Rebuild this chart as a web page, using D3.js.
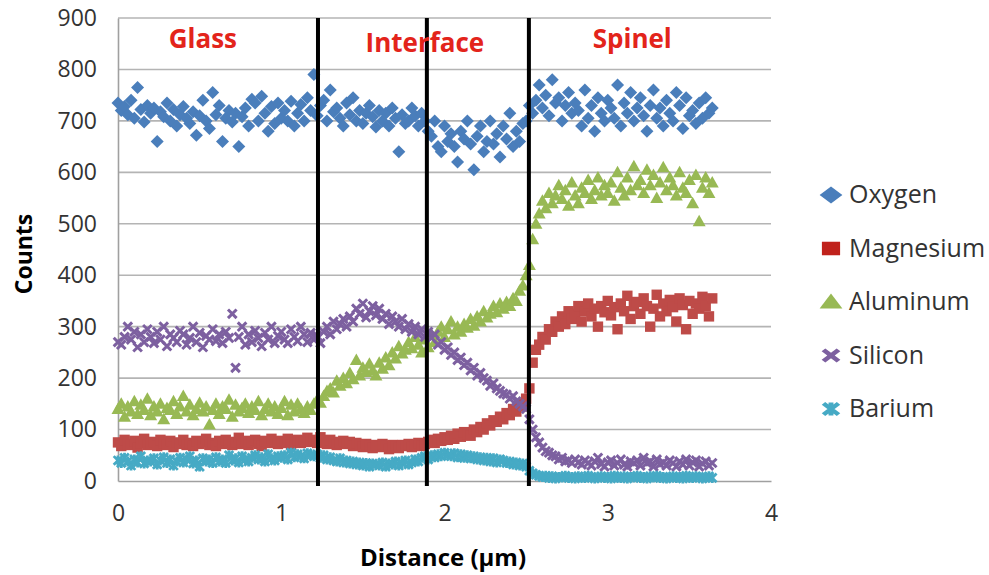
<!DOCTYPE html>
<html>
<head>
<meta charset="utf-8">
<script src="https://cdn.jsdelivr.net/npm/d3@7"></script>
<style>
  html, body { margin: 0; padding: 0; background: #fff; }
  svg text { font-family: "Open Sans", "Lato", sans-serif; }
</style>
</head>
<body>
<svg id="grafico" width="989" height="575"></svg>
<script>
'use strict';

// Distancia entre medidas (µm); el punto i está en i * paso
var paso = 0.02;

var oxygen = [
  735,720,728,712,740,705,765,722,698,730,
  715,725,660,718,708,735,700,722,690,712,
  728,705,695,718,672,710,740,700,685,755,
  712,730,660,705,720,698,715,650,708,725,
  690,742,735,700,748,715,680,728,695,735,
  705,720,700,738,690,715,732,700,745,720,
  790,710,730,740,700,760,718,725,705,690,
  735,712,745,700,720,695,715,730,708,688,
  720,700,715,690,725,705,640,712,695,700,
  725,710,690,715,700,680,670,700,650,640,
  690,660,675,650,620,680,665,700,655,605,
  670,690,640,660,700,655,675,630,690,665,
  715,650,680,660,695,700,730,715,740,770,
  725,750,710,780,735,745,700,730,755,715,
  735,720,690,760,705,730,680,745,715,700,
  740,725,705,770,690,735,715,755,700,725,
  745,710,680,730,760,705,725,690,740,715,
  700,755,730,685,745,710,720,695,735,705,
  745,715,725
];

var magnesium = [
  75,68,80,72,70,78,65,74,82,70,
  72,76,68,80,74,70,78,66,75,72,
  80,70,74,68,78,72,76,82,70,74,
  68,78,72,80,74,70,76,84,72,78,
  70,76,80,72,68,78,74,82,76,72,
  78,74,82,70,76,80,74,78,84,76,
  80,74,85,78,72,80,76,70,74,78,
  72,76,68,74,70,66,72,68,64,70,
  66,72,68,62,70,66,64,70,68,72,
  66,70,74,68,72,76,80,74,82,78,
  85,80,88,82,92,86,95,90,88,100,
  95,105,100,112,108,118,115,125,120,132,
  128,140,135,150,145,160,180,230,255,265,
  280,275,295,290,310,300,320,305,330,315,
  325,340,310,330,345,320,335,300,340,328,
  350,322,338,295,345,330,360,315,340,348,
  325,355,340,300,335,362,320,345,330,352,
  338,310,355,342,295,350,325,345,335,358,
  340,320,355
];

var aluminum = [
  140,150,125,145,135,155,130,148,138,160,
  128,145,135,150,120,142,138,155,130,145,
  165,135,148,128,140,152,135,145,110,138,
  150,130,145,140,158,125,148,135,142,150,
  132,145,138,155,128,140,150,135,145,130,
  142,155,128,148,135,150,140,132,145,138,
  150,158,152,165,175,180,172,195,185,200,
  190,210,198,235,205,220,212,228,215,205,
  230,218,240,225,250,238,262,248,255,270,
  258,280,265,250,275,260,285,270,290,300,
  280,295,310,285,300,290,305,298,315,302,
  320,310,330,318,325,340,328,345,335,348,
  340,355,350,370,380,400,420,470,500,520,
  545,530,560,540,555,575,548,565,535,580,
  555,540,570,560,585,548,565,590,555,575,
  560,580,545,600,570,555,590,565,612,575,
  585,560,605,575,595,550,580,610,565,590,
  575,555,600,570,560,585,540,595,505,570,
  590,560,580
];

var silicon = [
  270,265,280,300,275,290,260,285,270,295,
  280,268,290,275,300,262,285,278,270,292,
  285,265,278,300,270,288,260,282,275,295,
  272,285,268,290,278,325,220,280,300,265,
  285,270,292,278,262,288,275,300,268,282,
  290,275,268,295,280,272,300,285,270,288,
  275,282,268,290,300,285,310,295,305,315,
  300,320,310,335,325,345,318,330,340,322,
  335,315,325,305,320,310,300,315,295,305,
  290,300,285,295,280,290,278,285,265,270,
  255,260,245,250,235,240,225,230,215,220,
  205,210,200,195,185,190,180,175,170,168,
  160,165,155,150,145,140,120,100,85,75,
  65,58,55,50,48,42,45,38,40,35,
  42,36,32,40,35,30,38,45,33,28,
  36,40,30,35,42,32,28,38,35,40,
  30,45,35,38,28,42,33,36,30,40,
  35,28,38,32,42,30,36,40,28,34,
  38,30,35
];

var barium = [
  40,35,45,38,30,42,36,48,34,40,
  38,44,32,40,46,35,42,30,38,45,
  36,42,48,34,40,28,44,38,42,35,
  46,38,42,35,50,40,44,36,48,42,
  38,45,50,42,46,38,52,44,40,48,
  45,50,42,55,46,52,48,44,54,50,
  48,52,45,50,42,46,40,38,44,36,
  40,34,38,32,36,30,35,28,34,32,
  30,36,28,34,32,38,30,35,40,32,
  36,42,38,45,48,42,50,46,52,48,
  55,50,48,54,46,52,45,50,44,48,
  42,46,40,45,38,44,36,42,40,35,
  38,32,36,30,34,28,20,15,12,10,
  8,10,6,9,5,8,7,10,6,8,
  5,9,7,6,10,8,5,7,9,6,
  8,5,10,7,6,9,5,8,7,10,
  6,8,5,9,7,10,6,8,5,7,
  9,6,8,5,10,7,6,9,8,5,
  7,9,6
];

var series = ['Oxygen', 'Magnesium', 'Aluminum', 'Silicon', 'Barium'];
var valores = [oxygen, magnesium, aluminum, silicon, barium];
var colores = ['#4a7ebb', '#be4b48', '#98b954', '#7d60a0', '#46aac5'];
var simbolos = ['diamond', 'square', 'triangle', 'cross', 'star'];

// Fronteras entre zonas (µm) y sus etiquetas
var fronteras = [1.225, 1.892, 2.517];
var zonas = ['Glass', 'Interface', 'Spinel'];
var zonasX = [0.52, 1.88, 3.15];

var yTicks = [0, 100, 200, 300, 400, 500, 600, 700, 800, 900];
var xTicks = [0, 1, 2, 3, 4];

(function() {
  var svg = d3.select('#grafico');

  var x = d3.scaleLinear().domain([0, 4]).range([118, 771]);
  var y = d3.scaleLinear().domain([0, 900]).range([481, 18]);

  // Rejilla horizontal
  svg.append('g')
    .selectAll('line').data(yTicks.slice(1)).join('line')
    .attr('x1', x(0)).attr('x2', x(4))
    .attr('y1', function(d) { return y(d); })
    .attr('y2', function(d) { return y(d); })
    .attr('stroke', '#b4b4b4').attr('stroke-width', 1.6);

  // Ejes
  var ejeY = svg.append('g').attr('transform', 'translate(' + x(0) + ',0)')
    .call(d3.axisLeft(y).tickValues(yTicks).tickSize(0).tickPadding(21));
  var ejeX = svg.append('g').attr('transform', 'translate(0,' + y(0) + ')')
    .call(d3.axisBottom(x).tickValues(xTicks).tickFormat(d3.format('d'))
      .tickSize(0).tickPadding(24));
  [ejeY, ejeX].forEach(function(eje) {
    eje.select('.domain').attr('stroke', '#a0a0a0').attr('stroke-width', 1.6);
    eje.selectAll('text').attr('font-size', 23).attr('fill', '#333')
      .attr('font-family', '"Open Sans", sans-serif');
  });

  // Marcadores
  function marcador(sel, tipo, color) {
    switch (tipo) {
      case 'diamond':
        sel.append('path').attr('d', 'M0,-6.5L6.5,0L0,6.5L-6.5,0Z').attr('fill', color);
      break;
      case 'square':
        sel.append('path').attr('d', 'M-5.2,-5.2H5.2V5.2H-5.2Z').attr('fill', color);
      break;
      case 'triangle':
        sel.append('path').attr('d', 'M0,-6.5L6.5,5H-6.5Z').attr('fill', color);
      break;
      case 'cross':
        sel.append('path').attr('d', 'M-4.3,-4.3L4.3,4.3M4.3,-4.3L-4.3,4.3')
          .attr('stroke', color).attr('stroke-width', 3).attr('fill', 'none');
      break;
      case 'star':
        sel.append('path').attr('d', 'M-4.3,-4.3L4.3,4.3M4.3,-4.3L-4.3,4.3M0,-5V5')
          .attr('stroke', color).attr('stroke-width', 2.8).attr('fill', 'none');
      break;
    }
  }

  series.forEach(function(nombre, s) {
    var g = svg.append('g').attr('class', 'serie-' + nombre);
    var puntos = g.selectAll('g').data(valores[s]).join('g')
      .attr('transform', function(d, i) {
        return 'translate(' + x(i * paso) + ',' + y(d) + ')';
      });
    marcador(puntos, simbolos[s], colores[s]);
  });

  // Líneas verticales de frontera
  svg.append('g')
    .selectAll('line').data(fronteras).join('line')
    .attr('x1', function(d) { return x(d); })
    .attr('x2', function(d) { return x(d); })
    .attr('y1', y(900)).attr('y2', y(0) + 5)
    .attr('stroke', '#000').attr('stroke-width', 4);

  // Etiquetas de las zonas
  svg.append('g')
    .selectAll('text').data(zonas).join('text')
    .attr('x', function(d, i) { return x(zonasX[i]); })
    .attr('y', function(d, i) { return i == 1 ? 52 : 48; })
    .attr('text-anchor', 'middle')
    .attr('font-size', 26).attr('font-weight', 'bold').attr('fill', '#e3241b')
    .text(function(d) { return d; });

  // Títulos de los ejes
  svg.append('text')
    .attr('x', 443).attr('y', 566)
    .attr('text-anchor', 'middle')
    .attr('font-size', 24).attr('font-weight', 'bold').attr('fill', '#000')
    .text('Distance (µm)');
  svg.append('text')
    .attr('transform', 'translate(32,254) rotate(-90)')
    .attr('text-anchor', 'middle')
    .attr('font-size', 23).attr('font-weight', 'bold').attr('fill', '#000')
    .text('Counts');

  // Leyenda
  var leyenda = svg.append('g').attr('transform', 'translate(831,195)');
  series.forEach(function(nombre, s) {
    var fila = leyenda.append('g').attr('transform', 'translate(0,' + (s * 53.5) + ')');
    var m = fila.append('g').attr('transform', 'scale(1.75,1.3)');
    marcador(m, simbolos[s], s == 1 ? '#c0221c' : colores[s]);
    fila.append('text')
      .attr('x', 18).attr('y', 8)
      .attr('font-size', 25).attr('fill', '#333')
      .text(nombre);
  });
})();
</script>
</body>
</html>
